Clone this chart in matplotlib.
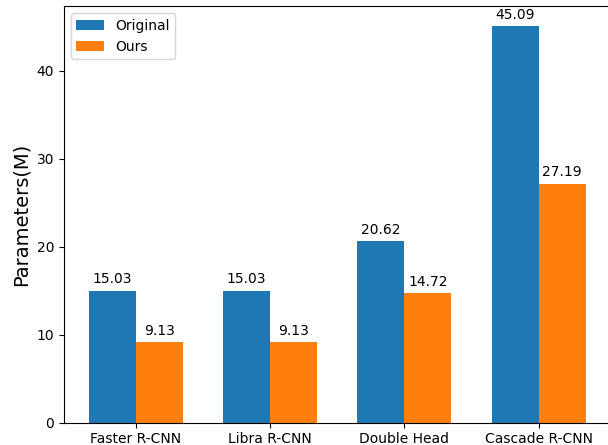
import numpy as np
import matplotlib
matplotlib.use('Agg')
import matplotlib.pyplot as plt

models = ['Faster R-CNN', 'Libra R-CNN', 'Double Head', 'Cascade R-CNN']
original = [15.03, 15.03, 20.62, 45.09]
ours = [9.13, 9.13, 14.72, 27.19]

x = np.arange(len(models))
width = 0.35

fig = plt.figure(figsize=(6.08, 4.45), dpi=100)
ax = fig.add_axes([0.105, 0.050, 0.899, 0.936])

b1 = ax.bar(x - width / 2, original, width, label='Original')
b2 = ax.bar(x + width / 2, ours, width, label='Ours')

ax.set_ylabel('Parameters(M)', fontsize=14)
ax.set_xticks(x)
ax.set_xticklabels(models)
ax.legend(loc='upper left')

ax.bar_label(b1, padding=3)
ax.bar_label(b2, padding=3)

fig.savefig('out.png', dpi=100)
